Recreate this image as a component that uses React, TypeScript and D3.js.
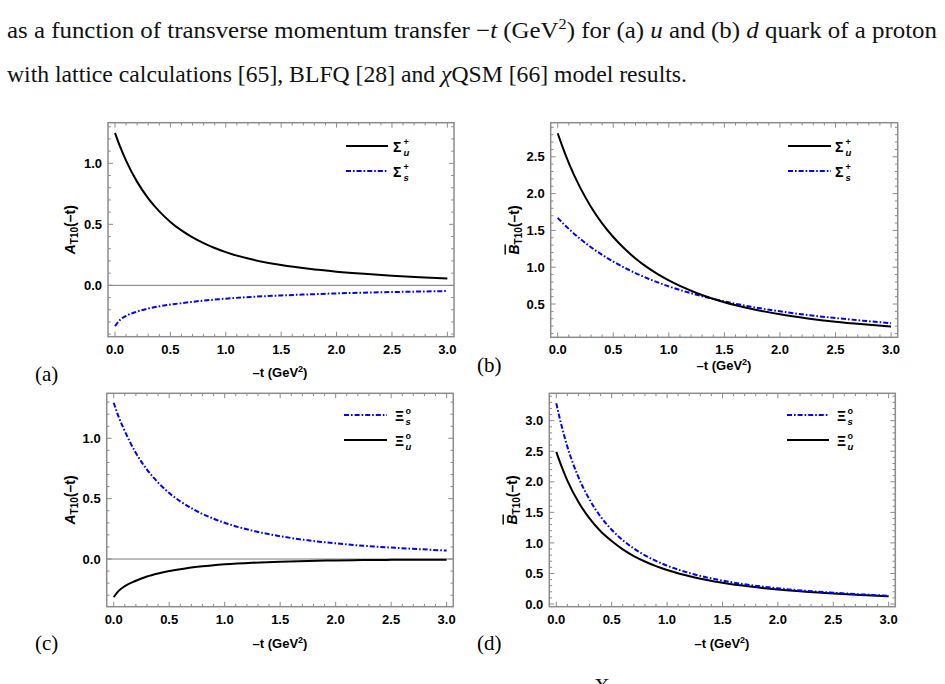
import React from 'react';
import * as d3 from 'd3';

// sample points along -t (GeV^2), shared by every curve
const T = [0, 0.05, 0.1, 0.2, 0.3, 0.4, 0.5, 0.6, 0.7, 0.8, 0.9, 1.0, 1.25, 1.5, 1.75, 2.0, 2.25, 2.5, 2.75, 3.0];

// (a) A_T10 for Sigma+
const aSigmaU = [1.25, 1.128, 1.022, 0.848, 0.713, 0.606, 0.52, 0.45, 0.393, 0.346, 0.306, 0.272, 0.209, 0.166, 0.135, 0.112, 0.094, 0.079, 0.066, 0.056];
const aSigmaS = [-0.335, -0.28, -0.25, -0.215, -0.19, -0.172, -0.158, -0.146, -0.135, -0.125, -0.117, -0.109, -0.094, -0.083, -0.074, -0.066, -0.06, -0.055, -0.051, -0.047];

// (b) B-bar_T10 for Sigma+
const bSigmaU = [2.82, 2.607, 2.415, 2.088, 1.819, 1.596, 1.41, 1.253, 1.119, 1.004, 0.906, 0.82, 0.65, 0.525, 0.432, 0.36, 0.304, 0.259, 0.224, 0.194];
const bSigmaS = [1.67, 1.592, 1.52, 1.388, 1.271, 1.168, 1.077, 0.994, 0.92, 0.854, 0.794, 0.74, 0.626, 0.535, 0.461, 0.401, 0.351, 0.31, 0.273, 0.24];

// (c) A_T10 for Xi0
const cXiS = [1.295, 1.165, 1.06, 0.878, 0.741, 0.633, 0.547, 0.478, 0.421, 0.373, 0.334, 0.3, 0.235, 0.189, 0.155, 0.13, 0.11, 0.095, 0.082, 0.07];
const cXiU = [-0.315, -0.26, -0.225, -0.18, -0.145, -0.12, -0.1, -0.084, -0.07, -0.06, -0.051, -0.044, -0.031, -0.022, -0.016, -0.012, -0.009, -0.007, -0.006, -0.005];

// (d) B-bar_T10 for Xi0
const dXiS = [3.285, 2.9, 2.575, 2.075, 1.71, 1.43, 1.215, 1.045, 0.909, 0.797, 0.705, 0.628, 0.483, 0.383, 0.31, 0.257, 0.216, 0.185, 0.158, 0.135];
const dXiU = [2.49, 2.24, 2.02, 1.67, 1.4, 1.19, 1.03, 0.894, 0.785, 0.696, 0.62, 0.556, 0.434, 0.348, 0.285, 0.238, 0.202, 0.172, 0.148, 0.128];

const xTicks = [0, 0.5, 1.0, 1.5, 2.0, 2.5, 3.0];
const yTicksA = [0, 0.5, 1.0];
const yTicksB = [0.5, 1.0, 1.5, 2.0, 2.5];
const yTicksD = [0, 0.5, 1.0, 1.5, 2.0, 2.5, 3.0];

const panelNames = ['(a)', '(b)', '(c)', '(d)'];

const SANS = "'Liberation Sans', Arial, sans-serif";
const SERIF = "'Liberation Serif', 'DejaVu Serif', serif";
const FRAME = '#8c8c8c';
const BLUE = '#0000ff';
const DASH = '5,2,1.6,2';
const X_DOMAIN: [number, number] = [-0.063, 3.06];

interface Series {
  values: number[];
  color: string;
  dashed: boolean;
  sym: string;
  sup: string;
  sub: string;
}

interface PanelSpec {
  key: string;
  box: { x0: number; x1: number; y0: number; y1: number };
  yDomain: [number, number];
  yTicks: number[];
  yName: 'A' | 'B';
  zeroLine: boolean;
  series: Series[]; // in legend order
  legend: { x0: number; x1: number; y: number; tx: number };
  yLabelX: number;
  xLabel: { x: number; y: number };
  tickLabelY: number;
  tag: { x: number; y: number };
}

const black = (values: number[], sym: string, sup: string, sub: string): Series => ({ values, color: '#000', dashed: false, sym, sup, sub });
const blue = (values: number[], sym: string, sup: string, sub: string): Series => ({ values, color: BLUE, dashed: true, sym, sup, sub });

const panels: PanelSpec[] = [
  {
    key: 'a',
    box: { x0: 108, x1: 454, y0: 122.7, y1: 336.7 },
    yDomain: [-0.421, 1.333],
    yTicks: yTicksA,
    yName: 'A',
    zeroLine: true,
    series: [black(aSigmaU, 'Σ', '+', 'u'), blue(aSigmaS, 'Σ', '+', 's')],
    legend: { x0: 346, x1: 388, y: 146, tx: 393 },
    yLabelX: 75,
    xLabel: { x: 280, y: 377 },
    tickLabelY: 354,
    tag: { x: 35, y: 381 },
  },
  {
    key: 'b',
    box: { x0: 550.7, x1: 897.7, y0: 122.7, y1: 337.3 },
    yDomain: [0.048, 2.963],
    yTicks: yTicksB,
    yName: 'B',
    zeroLine: false,
    series: [black(bSigmaU, 'Σ', '+', 'u'), blue(bSigmaS, 'Σ', '+', 's')],
    legend: { x0: 788, x1: 831, y: 146, tx: 835 },
    yLabelX: 518.5,
    xLabel: { x: 724, y: 370 },
    tickLabelY: 354,
    tag: { x: 477, y: 372 },
  },
  {
    key: 'c',
    box: { x0: 106.7, x1: 453.3, y0: 393.3, y1: 606.7 },
    yDomain: [-0.395, 1.373],
    yTicks: yTicksA,
    yName: 'A',
    zeroLine: true,
    series: [blue(cXiS, 'Ξ', 'o', 's'), black(cXiU, 'Ξ', 'o', 'u')],
    legend: { x0: 344, x1: 387, y: 415, tx: 395 },
    yLabelX: 75,
    xLabel: { x: 280, y: 648 },
    tickLabelY: 624,
    tag: { x: 35, y: 650 },
  },
  {
    key: 'd',
    box: { x0: 549.3, x1: 895.3, y0: 393.3, y1: 606.7 },
    yDomain: [-0.044, 3.448],
    yTicks: yTicksD,
    yName: 'B',
    zeroLine: false,
    series: [blue(dXiS, 'Ξ', 'o', 's'), black(dXiU, 'Ξ', 'o', 'u')],
    legend: { x0: 787, x1: 829, y: 415, tx: 837 },
    yLabelX: 516.5,
    xLabel: { x: 722, y: 648 },
    tickLabelY: 624,
    tag: { x: 477, y: 650 },
  },
];

const minorTicks = (lo: number, hi: number) =>
  d3
    .range(Math.ceil(lo * 10), Math.floor(hi * 10) + 1)
    .filter((k) => k % 5 !== 0)
    .map((k) => k / 10);

const Panel: React.FC<{ spec: PanelSpec; name: string }> = ({ spec, name }) => {
  const { box } = spec;
  const x = d3.scaleLinear().domain(X_DOMAIN).range([box.x0, box.x1]);
  const y = d3.scaleLinear().domain(spec.yDomain).range([box.y1, box.y0]);
  const fmt = d3.format('.1f');

  const line = d3
    .line<number>()
    .x((_, i) => x(T[i]))
    .y((d) => y(d))
    .curve(d3.curveMonotoneX);

  const xMinor = minorTicks(0, 3);
  const yMinor = minorTicks(spec.yDomain[0], spec.yDomain[1]);
  const MAJ = 5;
  const MIN = 2.8;
  const clipId = `clip-${spec.key}`;
  const cy = (box.y0 + box.y1) / 2;
  const { legend } = spec;

  return (
    <g>
      <defs>
        <clipPath id={clipId}>
          <rect x={box.x0} y={box.y0} width={box.x1 - box.x0} height={box.y1 - box.y0} />
        </clipPath>
      </defs>

      {/* zero axis */}
      {spec.zeroLine && (
        <line x1={box.x0} x2={box.x1} y1={y(0)} y2={y(0)} stroke="#7a7a7a" strokeWidth={1} />
      )}

      {/* curves */}
      <g clipPath={`url(#${clipId})`}>
        {[...spec.series].reverse().map((s, i) => (
          <path
            key={i}
            d={line(s.values) || ''}
            fill="none"
            stroke={s.color}
            strokeWidth={2}
            strokeDasharray={s.dashed ? DASH : undefined}
          />
        ))}
      </g>

      {/* frame ticks, inward on all four sides */}
      <g stroke={FRAME} strokeWidth={1}>
        {xTicks.map((t) => (
          <g key={`xm${t}`}>
            <line x1={x(t)} x2={x(t)} y1={box.y1} y2={box.y1 - MAJ} />
            <line x1={x(t)} x2={x(t)} y1={box.y0} y2={box.y0 + MAJ} />
          </g>
        ))}
        {xMinor.map((t) => (
          <g key={`xn${t}`}>
            <line x1={x(t)} x2={x(t)} y1={box.y1} y2={box.y1 - MIN} />
            <line x1={x(t)} x2={x(t)} y1={box.y0} y2={box.y0 + MIN} />
          </g>
        ))}
        {spec.yTicks.map((v) => (
          <g key={`ym${v}`}>
            <line x1={box.x0} x2={box.x0 + MAJ} y1={y(v)} y2={y(v)} />
            <line x1={box.x1} x2={box.x1 - MAJ} y1={y(v)} y2={y(v)} />
          </g>
        ))}
        {yMinor.map((v) => (
          <g key={`yn${v}`}>
            <line x1={box.x0} x2={box.x0 + MIN} y1={y(v)} y2={y(v)} />
            <line x1={box.x1} x2={box.x1 - MIN} y1={y(v)} y2={y(v)} />
          </g>
        ))}
      </g>
      <rect
        x={box.x0}
        y={box.y0}
        width={box.x1 - box.x0}
        height={box.y1 - box.y0}
        fill="none"
        stroke={FRAME}
        strokeWidth={1.5}
      />

      {/* tick labels */}
      <g fontFamily={SANS} fontWeight="bold" fontSize={13} fill="#000">
        {xTicks.map((t) => (
          <text key={`xl${t}`} x={x(t)} y={spec.tickLabelY} textAnchor="middle">
            {fmt(t)}
          </text>
        ))}
        {spec.yTicks.map((v) => (
          <text key={`yl${v}`} x={box.x0 - 6} y={y(v) + 4.6} textAnchor="end">
            {fmt(v)}
          </text>
        ))}
      </g>

      {/* axis titles */}
      <text
        x={spec.xLabel.x}
        y={spec.xLabel.y}
        textAnchor="middle"
        fontFamily={SANS}
        fontWeight="bold"
        fontSize={13}
      >
        –t (GeV<tspan dy={-5} fontSize={9}>2</tspan>
        <tspan dy={5}>)</tspan>
      </text>
      <text
        transform={`translate(${spec.yLabelX},${cy}) rotate(-90)`}
        textAnchor="middle"
        fontFamily={SANS}
        fontWeight="bold"
        fontSize={14}
      >
        <tspan fontStyle="italic" style={spec.yName === 'B' ? { textDecoration: 'overline' } : undefined}>
          {spec.yName}
        </tspan>
        <tspan dy={3} fontSize={10}>T10</tspan>
        <tspan dy={-3}>(–t)</tspan>
      </text>

      {/* legend */}
      {spec.series.map((s, i) => {
        const ly = legend.y + i * 25;
        return (
          <g key={`lg${i}`}>
            <line
              x1={legend.x0}
              x2={legend.x1}
              y1={ly}
              y2={ly}
              stroke={s.color}
              strokeWidth={2}
              strokeDasharray={s.dashed ? DASH : undefined}
            />
            <g fontFamily={SANS} fontWeight="bold">
              <text x={legend.tx} y={ly + 6} fontSize={14}>
                {s.sym}
              </text>
              <text x={legend.tx + 10.5} y={ly - 1} fontSize={9}>
                {s.sup}
              </text>
              <text x={legend.tx + 10.5} y={ly + 10} fontSize={9.5} fontStyle="italic">
                {s.sub}
              </text>
            </g>
          </g>
        );
      })}

      {/* panel tag */}
      <text x={spec.tag.x} y={spec.tag.y} fontFamily={SERIF} fontSize={21}>
        {name}
      </text>
    </g>
  );
};

const App: React.FC = () => {
  return (
    <svg
      width={945}
      height={684}
      viewBox="0 0 945 684"
      style={{ position: 'absolute', left: 0, top: 0, background: '#fff', display: 'block' }}
    >
      <rect width={945} height={684} fill="#fff" />

      {/* caption text above the figure */}
      <g fontFamily={SERIF} fontSize={23} fill="#111">
        <text x={7} y={38} textLength={930} lengthAdjust="spacingAndGlyphs">
          as a function of transverse momentum transfer −<tspan fontStyle="italic">t</tspan> (GeV
          <tspan dy={-9} fontSize={15}>2</tspan>
          <tspan dy={9}>) for (a) </tspan>
          <tspan fontStyle="italic">u</tspan> and (b) <tspan fontStyle="italic">d</tspan> quark of a proton
        </text>
        <text x={7} y={82} textLength={680} lengthAdjust="spacingAndGlyphs">
          with lattice calculations [65], BLFQ [28] and <tspan fontStyle="italic">χ</tspan>QSM [66] model results.
        </text>
      </g>

      {panels.map((p, i) => (
        <Panel key={p.key} spec={p} name={panelNames[i]} />
      ))}

      {/* top of the next line of text, cut by the page edge */}
      <text x={594} y={693} fontFamily={SERIF} fontSize={22} fill="#111">
        X
      </text>
    </svg>
  );
};

export default App;
